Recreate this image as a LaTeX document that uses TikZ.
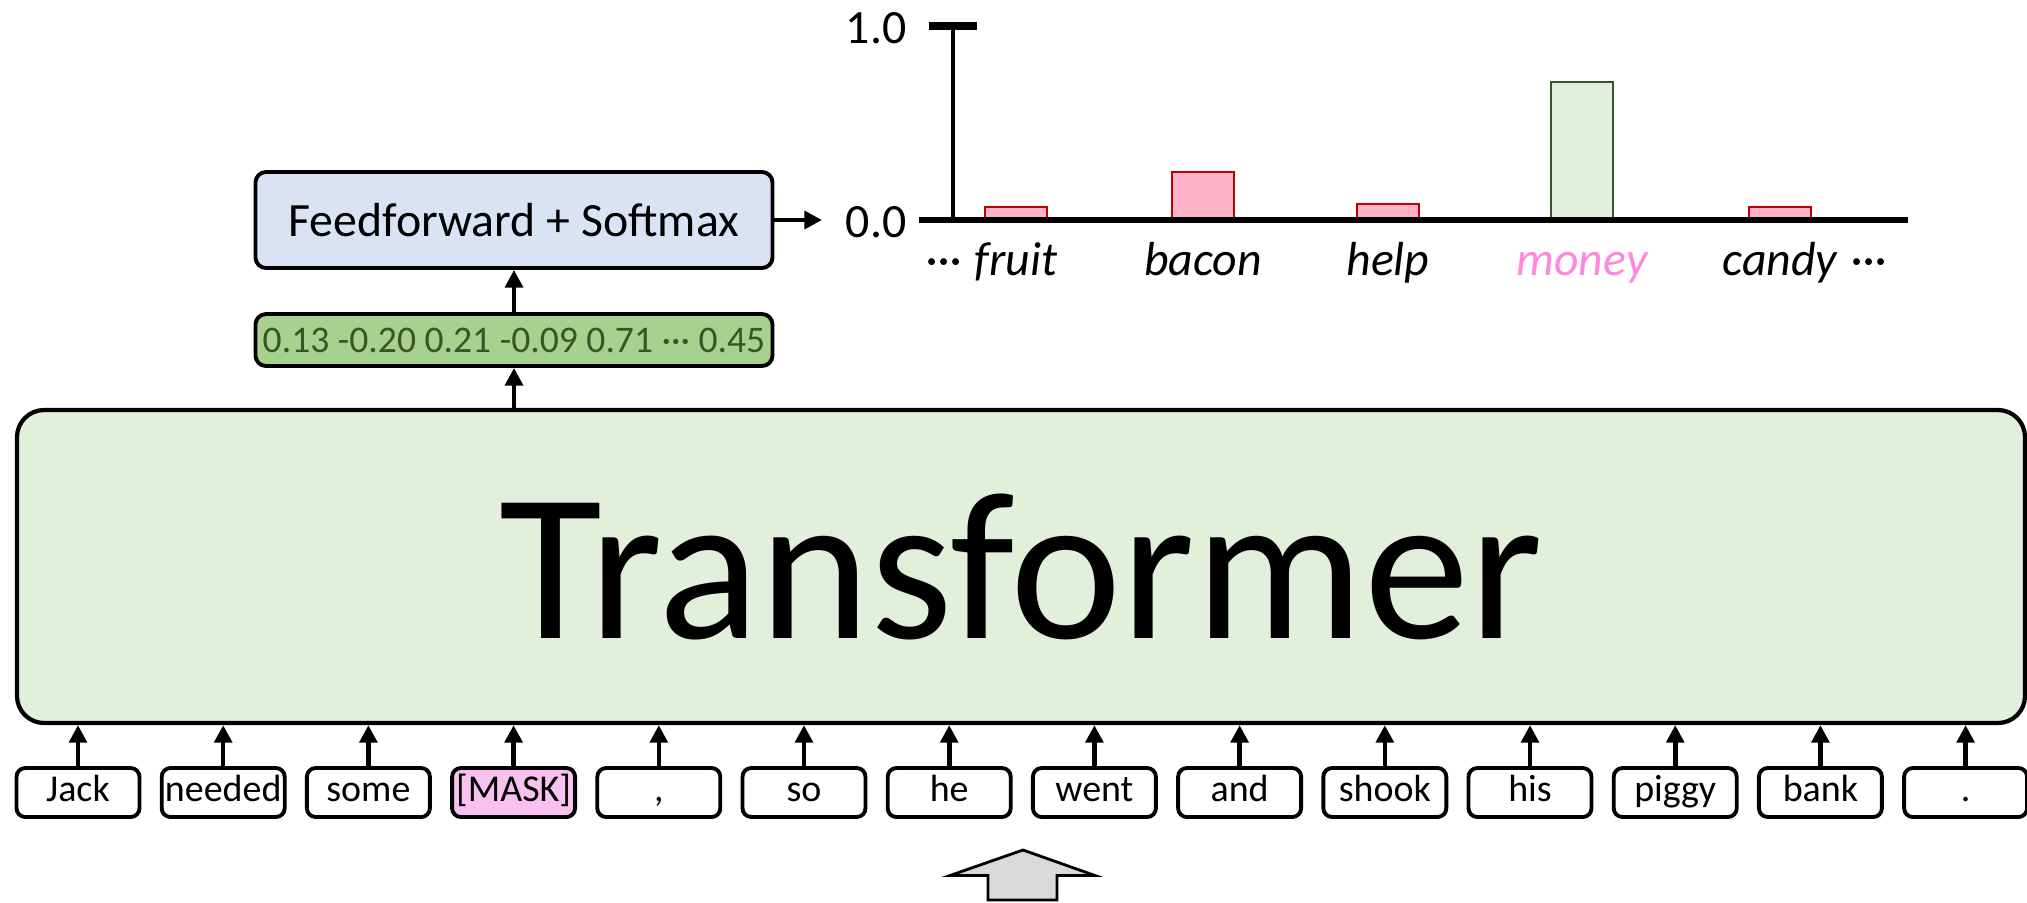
\documentclass[tikz,border=0pt]{standalone}
\usepackage{fontspec}
\setmainfont{Carlito}
\usepackage{xcolor}
\usetikzlibrary{arrows.meta}

\definecolor{transgreen}{HTML}{E2EFDA}
\definecolor{ffblue}{HTML}{DAE3F3}
\definecolor{vecgreen}{HTML}{A9D18E}
\definecolor{vectext}{HTML}{375623}
\definecolor{maskpink}{HTML}{F9C1F0}
\definecolor{barpink}{HTML}{FFB3C6}
\definecolor{barred}{HTML}{C00000}
\definecolor{bargreen}{HTML}{38562A}
\definecolor{moneypink}{HTML}{FF88DD}
\definecolor{arrowgray}{HTML}{D9D9D9}

\begin{document}
\begin{tikzpicture}[>={Triangle[width=5pt,length=5pt]},
    token/.style={draw, line width=1.1pt, rounded corners=2.5pt, minimum width=1.23cm, minimum height=0.49cm,
        inner sep=0pt, text height=0.7em, text depth=0.2em, font=\fontsize{10.8}{13}\selectfont},
    word/.style={anchor=base, font=\fontsize{13.6}{16}\selectfont\itshape},
    bar/.style={draw=barred, fill=barpink, line width=0.7pt},
    arr/.style={->, line width=1.3pt}]
    \useasboundingbox (0,0) rectangle (20.27,9.02);

    % Transformer
    \node[draw, line width=1.2pt, fill=transgreen, rounded corners=7.7pt, minimum width=20.08cm, minimum height=3.13cm,
        font=\fontsize{60}{72}\selectfont] (trans) at (10.21,3.355) {Transformer};

    % Input tokens
    \node[token] (jack) at (0.78,1.095) {Jack};
    \node[token] (needed) at (2.232,1.095) {needed};
    \node[token] (some) at (3.684,1.095) {some};
    \node[token, fill=maskpink] (mask) at (5.136,1.095) {[MASK]};
    \node[token] (comma) at (6.588,1.095) {,};
    \node[token] (so) at (8.04,1.095) {so};
    \node[token] (he) at (9.492,1.095) {he};
    \node[token] (went) at (10.944,1.095) {went};
    \node[token] (and) at (12.396,1.095) {and};
    \node[token] (shook) at (13.848,1.095) {shook};
    \node[token] (his) at (15.30,1.095) {his};
    \node[token] (piggy) at (16.752,1.095) {piggy};
    \node[token] (bank) at (18.204,1.095) {bank};
    \node[token] (stop) at (19.656,1.095) {.};

    % Output head
    \node[draw, line width=1.1pt, fill=vecgreen, rounded corners=3pt, minimum width=5.17cm, minimum height=0.52cm,
        inner sep=0pt, text=vectext, font=\fontsize{10.7}{13}\selectfont] (vec) at (5.14,5.62)
        {0.13 -0.20 0.21 -0.09 0.71 ··· 0.45};
    \node[draw, line width=1.1pt, fill=ffblue, rounded corners=3pt, minimum width=5.17cm, minimum height=0.96cm,
        font=\fontsize{13.6}{16}\selectfont] (ff) at (5.14,6.82) {Feedforward + Softmax};
    \coordinate (chartin) at (8.22,6.82);

    % Bars
    \draw[bar] (9.85,6.82) rectangle (10.47,6.95);
    \draw[bar] (11.72,6.82) rectangle (12.34,7.30);
    \draw[bar] (13.57,6.82) rectangle (14.19,6.98);
    \draw[bar, draw=bargreen, fill=transgreen] (15.51,6.82) rectangle (16.13,8.20);
    \draw[bar] (17.49,6.82) rectangle (18.11,6.95);

    % Axes
    \coordinate (origin) at (9.53,6.82);
    \coordinate (ytop) at (9.53,8.76);
    \draw[line width=1.4pt] (origin) -- (ytop);
    \draw[line width=2pt] (9.29,8.76) -- (9.77,8.76);
    \draw[line width=1.7pt] (9.19,6.82) -- (19.08,6.82);
    \node[anchor=east, inner sep=0pt, font=\fontsize{13.6}{16}\selectfont] (one) at (9.07,8.74) {1.0};
    \node[anchor=east, inner sep=0pt, font=\fontsize{13.6}{16}\selectfont] (zero) at (9.07,6.80) {0.0};

    % Vocabulary
    \node[word] (fruit) at (10.16,6.27) {fruit};
    \node[word] (bacon) at (12.03,6.27) {bacon};
    \node[word] (help) at (13.88,6.27) {help};
    \node[word, text=moneypink] (money) at (15.82,6.27) {money};
    \node[word] (candy) at (17.80,6.27) {candy};
    \node[word, anchor=base east, inner sep=0pt] (moreleft) at (fruit.base west) {···};
    \node[word, anchor=base west, inner sep=0pt] (moreright) at (candy.base east) {···};

    % Arrows
    \draw[arr] (jack) -- (jack |- trans.south);
    \draw[arr] (needed) -- (needed |- trans.south);
    \draw[arr] (some) -- (some |- trans.south);
    \draw[arr] (mask) -- (mask |- trans.south);
    \draw[arr] (comma) -- (comma |- trans.south);
    \draw[arr] (so) -- (so |- trans.south);
    \draw[arr] (he) -- (he |- trans.south);
    \draw[arr] (went) -- (went |- trans.south);
    \draw[arr] (and) -- (and |- trans.south);
    \draw[arr] (shook) -- (shook |- trans.south);
    \draw[arr] (his) -- (his |- trans.south);
    \draw[arr] (piggy) -- (piggy |- trans.south);
    \draw[arr] (bank) -- (bank |- trans.south);
    \draw[arr] (stop) -- (stop |- trans.south);
    \draw[arr] (trans.north -| vec) -- (vec);
    \draw[arr] (vec) -- (ff);
    \draw[arr] (ff) -- (chartin);

    % Input arrow
    \draw[line width=0.8pt, fill=arrowgray] (10.23,0.52) -- (10.95,0.265) -- (10.57,0.265) -- (10.57,0.02)
        -- (9.88,0.02) -- (9.88,0.265) -- (9.50,0.265) -- cycle;
\end{tikzpicture}
\end{document}
